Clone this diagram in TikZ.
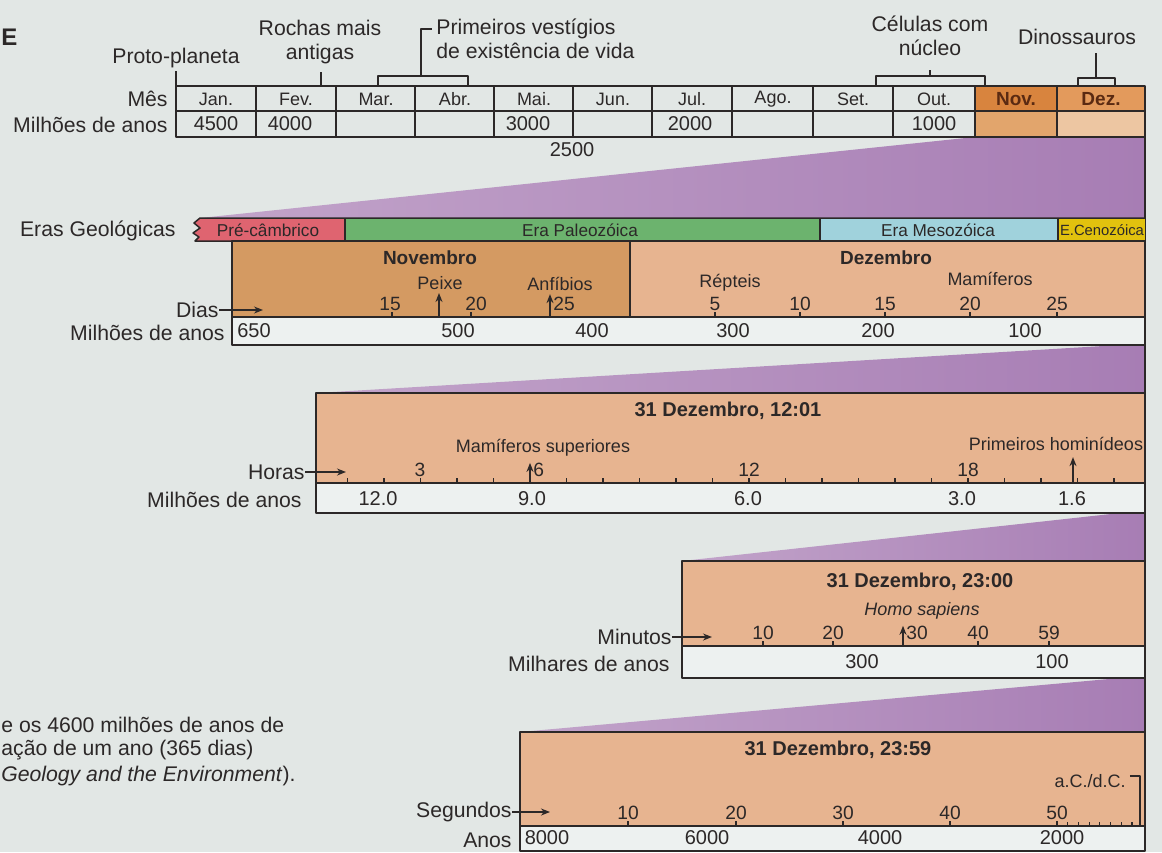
\documentclass[tikz,border=0pt]{standalone}
\usepackage{fontspec}
\setmainfont{Liberation Sans}
\usepackage{xcolor}
\usetikzlibrary{arrows.meta}
\definecolor{bg}{HTML}{E2E7E5}
\definecolor{roww}{HTML}{EDF1F0}
\definecolor{ink}{HTML}{2C2828}
\definecolor{purp}{HTML}{A77DB4}
\definecolor{purpl}{HTML}{C2A4CA}
\definecolor{novh}{HTML}{D8843E}
\definecolor{dezh}{HTML}{E39A5C}
\definecolor{novl}{HTML}{E2A56C}
\definecolor{dezl}{HTML}{EDC6A2}
\definecolor{novb}{HTML}{D49A62}
\definecolor{dezb}{HTML}{E7B490}
\definecolor{cpre}{HTML}{DF6470}
\definecolor{cpaleo}{HTML}{6CB36E}
\definecolor{cmeso}{HTML}{A0D2DC}
\definecolor{cceno}{HTML}{E2C20E}
\definecolor{brn}{HTML}{5A2A12}
\tikzset{
  every picture/.style={line join=round, >=Stealth},
  lbl/.style={text=ink, inner sep=0pt, font=\fontsize{10.6}{12}\selectfont},
  sm/.style={text=ink, inner sep=0pt, font=\fontsize{9}{11}\selectfont},
  num/.style={text=ink, inner sep=0pt, font=\fontsize{9.6}{11}\selectfont},
  val/.style={text=ink, inner sep=0pt, font=\fontsize{10}{12}\selectfont},
  ttl/.style={text=ink, inner sep=0pt, font=\bfseries\fontsize{10}{12}\selectfont},
  mon/.style={text=brn, inner sep=0pt, font=\bfseries\fontsize{9.5}{11}\selectfont},
  eralbl/.style={text=ink, inner sep=0pt, font=\fontsize{8.6}{10}\selectfont},
  ln/.style={draw=ink, line width=0.75pt},
  tk/.style={draw=ink, line width=0.6pt},
  ar/.style={draw=ink, line width=0.7pt, -{Stealth[length=4.5pt,width=3.5pt]}},
  wedge/.style={left color=purpl, right color=purp},
}

\begin{document}
\begin{tikzpicture}[x=0.5pt,y=-0.5pt]
\useasboundingbox (0,0) rectangle (1162,852);
\clip (0,0) rectangle (1162,852);
\fill[bg] (0,0) rectangle (1162,852);
\shade[wedge] (975,137) -- (1145,137) -- (1145,218) -- (200,218) -- cycle;
\shade[wedge] (1120,345) -- (1145,345) -- (1145,393) -- (316,393) -- cycle;
\shade[wedge] (1120,513) -- (1145,513) -- (1145,561) -- (682,561) -- cycle;
\shade[wedge] (1120,678) -- (1145,678) -- (1145,732) -- (520,732) -- cycle;
\draw[ln] (1145,137) -- (1145,851);

\fill[novh] (975,86) rectangle (1057,111);
\fill[dezh] (1057,86) rectangle (1145,111);
\fill[novl] (975,111) rectangle (1057,137);
\fill[dezl] (1057,111) rectangle (1145,137);
\draw[ln] (176,86) rectangle (1145,137) (176,111) -- (1145,111);
\foreach \x in {256,336,415,494,573,652,732,813,893,975,1057} \draw[ln] (\x,86) -- (\x,137);
\foreach \x/\m [count=\i] in {216/Jan.,296/Fev.,376/Mar.,455/Abr.,534/Mai.,613/Jun.,692/Jul.,773/Ago.,853/Set.,934/Out.}
  \node[sm] (mes\i) at (\x,99) {\m};
\node[mon] (mes11) at (1016,99) {Nov.};
\node[mon] (mes12) at (1101,99) {Dez.};
\foreach \x/\v [count=\i] in {216/4500,290/4000,528/3000,690/2000,934/1000}
  \node[val] (ano\i) at (\x,124) {\v};
\node[val] (ano6) at (572,150) {2500};
\node[lbl,anchor=east] (lmes) at (168,99) {Mês};
\node[lbl,anchor=east] (lmil1) at (168,125) {Milhões de anos};

\node[lbl] (proto) at (176,58) {Proto-planeta};
\coordinate (proto-t) at (176,86);
\draw[tk,shorten >=1.5pt] (proto-t) -- (proto-t |- proto.south);
\node[lbl,align=center] (rochas) at (320,42) {Rochas mais\\antigas};
\coordinate (rochas-t) at (321,86);
\draw[tk,shorten >=4pt] (rochas-t) -- (rochas-t |- rochas.south);
\node[lbl,align=left,anchor=west] (vida) at (436,39) {Primeiros vestígios\\de existência de vida};
\coordinate (vida-a) at (378,86); \coordinate (vida-b) at (468,86);
\coordinate (vida-m) at (421,76); \coordinate (vida-h) at (432,29);
\draw[tk] (vida-a) |- (vida-m) -| (vida-b);
\draw[tk] (vida-m) |- (vida-h);
\node[lbl,align=center] (celula) at (930,36) {Células com\\núcleo};
\coordinate (cel-a) at (876,86); \coordinate (cel-b) at (985,86); \coordinate (cel-m) at (930,76);
\draw[tk] (cel-a) |- (cel-m) -| (cel-b);
\draw[tk] (cel-m) -- ++(0,-6);
\node[lbl] (dino) at (1077,37) {Dinossauros};
\coordinate (dino-a) at (1078,86); \coordinate (dino-b) at (1115,86); \coordinate (dino-m) at (1096,78);
\draw[tk] (dino-a) |- (dino-m) -| (dino-b);
\draw[tk,shorten >=4pt] (dino-m) -- (dino-m |- dino.south);

\fill[cpre] (345,218) -- (200,218) -- (194,223) -- (200,228) -- (193,233) -- (199,237) -- (195,241) -- (345,241) -- cycle;
\fill[cpaleo] (345,218) rectangle (820,241);
\fill[cmeso] (820,218) rectangle (1058,241);
\fill[cceno] (1058,218) rectangle (1145,241);
\draw[ln] (1145,218) -- (200,218) -- (194,223) -- (200,228) -- (193,233) -- (199,237) -- (195,241) -- (232,241);
\draw[ln] (345,218) -- (345,241) (820,218) -- (820,241) (1058,218) -- (1058,241);
\node[eralbl] (pre) at (268,230) {Pré-câmbrico};
\node[eralbl] (paleo) at (580,230) {Era Paleozóica};
\node[eralbl] (meso) at (938,230) {Era Mesozóica};
\node[eralbl,font=\fontsize{7.4}{9}\selectfont] (ceno) at (1102,230) {E.Cenozóica};
\node[lbl,anchor=east] (eras) at (176,231) {Eras Geológicas};

\fill[novb] (232,241) rectangle (630,317);
\fill[dezb] (630,241) rectangle (1145,317);
\fill[roww] (232,317) rectangle (1145,345);
\draw[ln] (232,241) rectangle (1145,345) (232,317) -- (1145,317) (630,241) -- (630,317);
\node[mon,text=ink] (nov) at (430,258) {Novembro};
\node[mon,text=ink] (dez) at (886,258) {Dezembro};
\foreach \x/\l/\d [count=\i] in {392/390/15,471/476/20,715/715/5,800/800/10,885/885/15,970/970/20,1057/1057/25}{
  \draw[tk] (\x,317) -- (\x,312);
  \node[num,anchor=south] (dia\i) at (\l,311) {\d};
}
\coordinate (peixe-t) at (439,317); \coordinate (anf-t) at (550,317);
\node[sm] (peixe) at (440,283) {Peixe};
\node[sm] (anf) at (560,284) {Anfíbios};
\node[num,anchor=south west] (dia8) at (553,311) {25};
\draw[ar,shorten >=1.5pt] (peixe-t) -- (peixe-t |- peixe.south);
\draw[ar,shorten >=1.5pt] (anf-t) -- (anf-t |- anf.south);
\node[sm] (rept) at (730,283) {Répteis};
\node[sm] (mam) at (990,279) {Mamíferos};
\node[lbl,anchor=east] (dias) at (219,310) {Dias};
\coordinate (dias-e) at (263,0);
\draw[ar] (dias.east) -- (dias.east -| dias-e);
\node[lbl,anchor=east] (lmil2) at (225,333) {Milhões de anos};
\foreach \x/\v [count=\i] in {254/650,458/500,592/400,733/300,878/200,1025/100}
  \node[val] (ma\i) at (\x,331) {\v};

\fill[dezb] (316,393) rectangle (1145,483);
\fill[roww] (316,483) rectangle (1145,513);
\draw[ln] (316,393) rectangle (1145,513) (316,483) -- (1145,483);
\foreach \h in {1,...,22} \draw[tk] ({311+36.5*\h},483) -- ++(0,-5);
\node[ttl] (t3) at (728,411) {31 Dezembro, 12:01};
\foreach \x/\h [count=\i] in {420/3,749/12,968/18}
  \node[num,anchor=south] (hr\i) at (\x,477) {\h};
\node[num,anchor=south west] (hr4) at (533,477) {6};
\coordinate (mams-t) at (530,483); \coordinate (hom-t) at (1073,483);
\node[sm] (mams) at (543,448) {Mamíferos superiores};
\node[sm] (hom) at (1056,444) {Primeiros hominídeos};
\draw[ar,shorten >=3pt] (mams-t) -- (mams-t |- mams.south);
\draw[ar,shorten >=3pt] (hom-t) -- (hom-t |- hom.south);
\node[lbl,anchor=east] (horas) at (305,472) {Horas};
\coordinate (horas-e) at (346,0);
\draw[ar] (horas.east) -- (horas.east -| horas-e);
\node[lbl,anchor=east] (lmil3) at (302,500) {Milhões de anos};
\foreach \x/\v [count=\i] in {378/12.0,532/9.0,748/6.0,962/3.0,1072/1.6}
  \node[val] (mh\i) at (\x,499) {\v};

\fill[dezb] (682,561) rectangle (1145,646);
\fill[roww] (682,646) rectangle (1145,678);
\draw[ln] (682,561) rectangle (1145,678) (682,646) -- (1145,646);
\node[ttl] (t4) at (920,582) {31 Dezembro, 23:00};
\node[sm,font=\itshape\fontsize{9}{11}\selectfont] (homo) at (922,611) {Homo sapiens};
\foreach \x/\m [count=\i] in {763/10,833/20,978/40,1049/59}{
  \draw[tk] (\x,646) -- (\x,641);
  \node[num,anchor=south] (min\i) at (\x,640) {\m};
}
\node[num,anchor=south west] (min5) at (906,640) {30};
\coordinate (homo-t) at (903,646);
\draw[ar,shorten >=3pt] (homo-t) -- (homo-t |- homo.south);
\node[lbl,anchor=east] (minutos) at (672,637) {Minutos};
\coordinate (minutos-e) at (712,0);
\draw[ar] (minutos.east) -- (minutos.east -| minutos-e);
\node[lbl,anchor=east] (lmil4) at (670,664) {Milhares de anos};
\node[val] (mk1) at (862,662) {300};
\node[val] (mk2) at (1052,662) {100};

\fill[dezb] (520,732) rectangle (1145,826);
\fill[roww] (520,826) rectangle (1145,851);
\draw[ln] (520,732) rectangle (1145,851) (520,826) -- (1145,826);
\node[ttl] (t5) at (838,750) {31 Dezembro, 23:59};
\foreach \x/\s [count=\i] in {628/10,736/20,843/30,950/40,1057/50}{
  \draw[tk] (\x,826) -- (\x,821);
  \node[num,anchor=south] (seg\i) at (\x,820) {\s};
}
\foreach \k in {1,...,7} \draw[tk] ({1057+10.7*\k},826) -- ++(0,-4);
\node[sm] (acdc) at (1090,781) {a.C./d.C.};
\coordinate (acdc-t) at (1140,826);
\draw[tk] ([shift={(2pt,2.5pt)}]acdc.east) -| (acdc-t);
\node[lbl,anchor=east] (segundos) at (512,812) {Segundos};
\coordinate (segundos-e) at (550,0);
\draw[ar] (segundos.east) -- (segundos.east -| segundos-e);
\node[lbl,anchor=east] (anos) at (512,840) {Anos};
\foreach \x/\v [count=\i] in {547/8000,707/6000,880/4000,1062/2000}
  \node[val] (an\i) at (\x,838) {\v};

\node[lbl,anchor=west] (cap1) at (1,725) {e os 4600 milhões de anos de};
\node[lbl,anchor=west] (cap2) at (1,750) {ação de um ano (365 dias)};
\node[lbl,anchor=west] (cap3) at (1,776) {\textit{Geology and the Environment}).};
\node[lbl,font=\bfseries\fontsize{12}{14}\selectfont,anchor=west] (ecut) at (1,37) {E};
\end{tikzpicture}
\end{document}
